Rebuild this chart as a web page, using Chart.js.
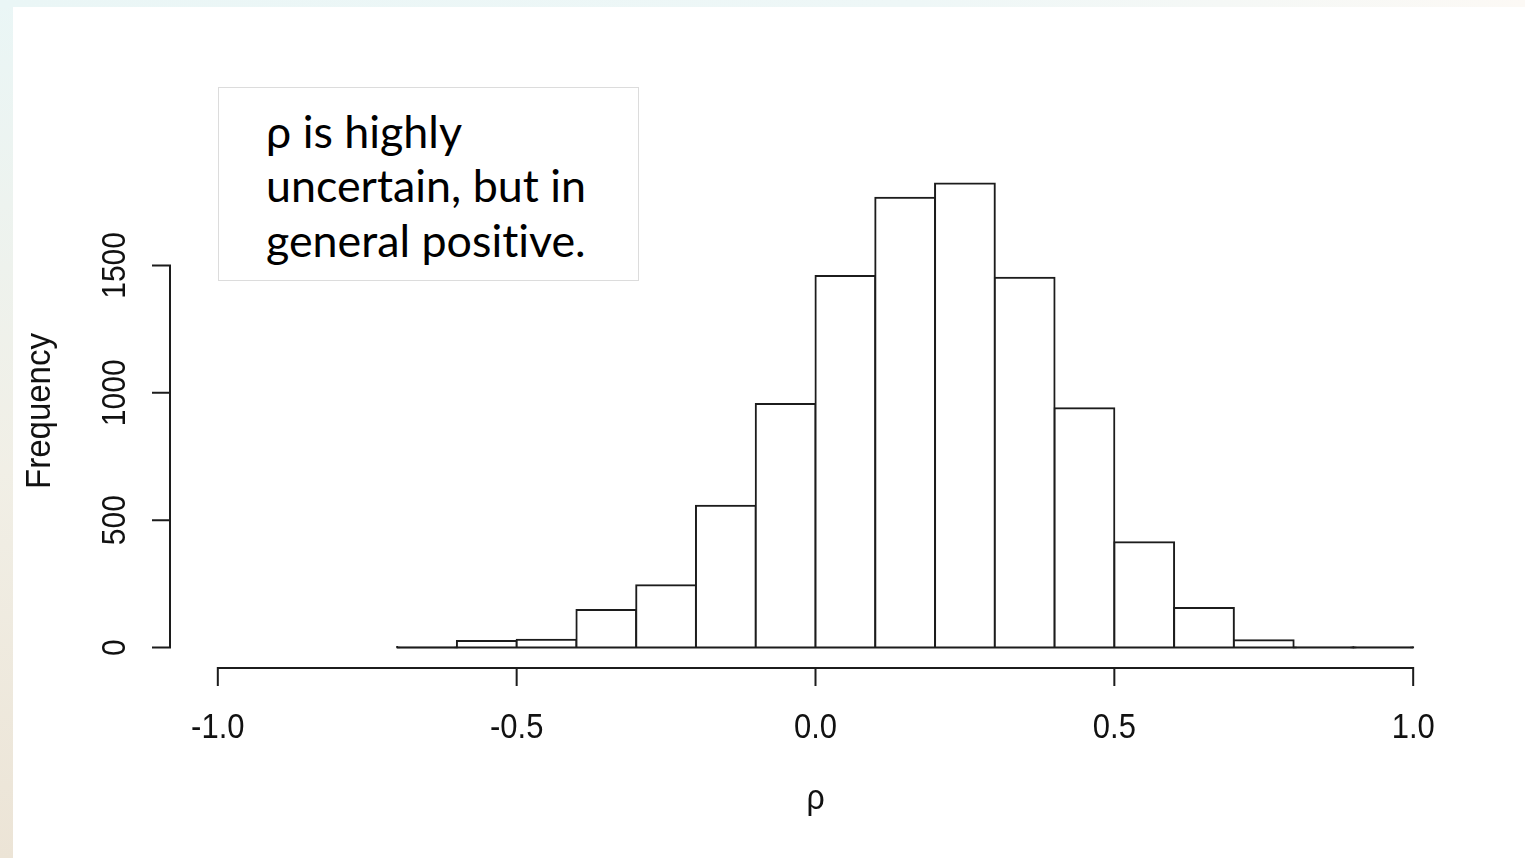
<!DOCTYPE html>
<html>
<head>
<meta charset="utf-8">
<script src="https://cdn.jsdelivr.net/npm/chart.js@4.4.1/dist/chart.umd.min.js"></script>
<style>
  html, body { margin: 0; padding: 0; overflow: hidden; }
  body {
    width: 1525px; height: 858px; position: relative;
    background: linear-gradient(to bottom, #eaf6f6 0%, #f1efe6 55%, #ece4d6 100%);
  }
  #top { position: absolute; left: 0; top: 0; width: 1525px; height: 7px;
    background: linear-gradient(to right, #eaf6f6, #eef7f7 60%, #fcf9f5); }
  #sheet { position: absolute; left: 13px; top: 7px; right: 0; bottom: 0; background: #fff; }
  #wrap { position: absolute; left: 0; top: 0; width: 1525px; height: 858px; }
  #note { position: absolute; left: 218px; top: 87px; width: 421px; height: 194px;
    box-sizing: border-box; border: 1.5px solid #dcdcdc; background: #fff; }
  #note div { position: absolute; left: 47px; white-space: nowrap; color: #000;
    font-family: Lato, "Noto Sans", sans-serif; font-variant-ligatures: none; line-height: 1; }
</style>
</head>
<body>
<div id="top"></div>
<div id="sheet"></div>
<div id="wrap"><canvas id="myChart"></canvas></div>
<div id="note"></div>
<script>
const ctx = document.getElementById('myChart')

// histogram of rho, bins of width 0.1
const binEdges = [-0.7, -0.6, -0.5, -0.4, -0.3, -0.2, -0.1, 0.0, 0.1, 0.2, 0.3, 0.4, 0.5, 0.6, 0.7, 0.8, 0.9, 1.0]
const counts = [2, 26, 31, 148, 245, 557, 956, 1458, 1766, 1821, 1452, 939, 414, 155, 29, 1, 1]

const xTicks = [-1.0, -0.5, 0.0, 0.5, 1.0]
const xTickLabels = ['-1.0', '-0.5', '0.0', '0.5', '1.0']
const yTicks = [0, 500, 1000, 1500]
const yTickLabels = ['0', '500', '1000', '1500']

const xTitle = 'ρ'
const yTitle = 'Frequency'
const note = ['ρ is highly', 'uncertain, but in', 'general positive.']

const ink = '#1c1c1c'

const bars = counts.map((c, i) => ({ x: (binEdges[i] + binEdges[i + 1]) / 2, y: c }))
const baseline = [
    { x: binEdges[0], y: 0 },
    { x: binEdges[binEdges.length - 1], y: 0 }
]

// the text box, font sized so the widest line is ~320px
const noteBox = document.getElementById('note')
const m = document.createElement('canvas').getContext('2d')
m.font = '100px Lato, "Noto Sans", sans-serif'
const noteSize = 100 * 320 / m.measureText(note[1]).width
note.forEach((line, i) => {
    const d = document.createElement('div')
    d.textContent = line
    d.style.fontSize = noteSize.toFixed(1) + 'px'
    // baseline sits ~0.887em below the top with line-height 1
    d.style.top = (149 + i * 54.5 - 87 - 1.5 - 0.887 * noteSize).toFixed(1) + 'px'
    noteBox.appendChild(d)
})

// R-like detached axes
const rAxes = {
    id: 'rAxes',
    afterDraw(chart) {
        const c = chart.ctx
        const { chartArea, scales: { x, y } } = chart
        c.save()
        c.strokeStyle = ink
        c.lineWidth = 2
        c.beginPath()
        const ax = chartArea.left
        c.moveTo(ax, y.getPixelForValue(yTicks[0]))
        c.lineTo(ax, y.getPixelForValue(yTicks[yTicks.length - 1]))
        yTicks.forEach(v => {
            const py = y.getPixelForValue(v)
            c.moveTo(ax + 1, py)
            c.lineTo(ax - 18, py)
        })
        const ay = chartArea.bottom
        c.moveTo(x.getPixelForValue(xTicks[0]), ay)
        c.lineTo(x.getPixelForValue(xTicks[xTicks.length - 1]), ay)
        xTicks.forEach(v => {
            const px = x.getPixelForValue(v)
            c.moveTo(px, ay - 1)
            c.lineTo(px, ay + 18)
        })
        c.stroke()

        c.fillStyle = '#111'
        c.textAlign = 'center'
        c.textBaseline = 'alphabetic'
        c.font = '31px "Liberation Sans", Arial, sans-serif'
        xTicks.forEach((v, i) => {
            c.save()
            c.translate(x.getPixelForValue(v), ay + 70)
            c.scale(1, 1.12)
            c.fillText(xTickLabels[i], 0, 0)
            c.restore()
        })
        c.font = '30px "Liberation Sans", Arial, sans-serif'
        yTicks.forEach((v, i) => {
            c.save()
            c.translate(ax - 45, y.getPixelForValue(v))
            c.rotate(-Math.PI / 2)
            c.scale(1, 1.12)
            c.fillText(yTickLabels[i], 0, 0)
            c.restore()
        })
        // axis titles
        c.save()
        c.font = '33px "Liberation Sans", Arial, sans-serif'
        c.translate(50, (chartArea.top + chartArea.bottom) / 2 + 8)
        c.rotate(-Math.PI / 2)
        c.scale(1, 1.06)
        c.fillText(yTitle, 0, 0)
        c.restore()
        c.save()
        c.font = '32px "Liberation Sans", Arial, sans-serif'
        c.translate(x.getPixelForValue(0), ay + 141)
        c.scale(1, 1.12)
        c.fillText(xTitle, 0, 0)
        c.restore()
        c.restore()
    }
}

const data = {
    datasets: [{
        type: 'line',
        data: baseline,
        borderColor: ink,
        borderWidth: 2,
        pointRadius: 0,
        order: 0
    }, {
        type: 'bar',
        data: bars,
        backgroundColor: '#fff',
        borderColor: ink,
        borderWidth: 2,
        inflateAmount: 1,
        barPercentage: 1,
        categoryPercentage: 1,
        order: 1
    }]
}

const config = {
    type: 'bar',
    data: data,
    options: {
        responsive: true,
        maintainAspectRatio: false,
        animation: false,
        layout: { padding: { left: 170, right: 64, top: 138, bottom: 190 } },
        plugins: { legend: { display: false }, tooltip: { enabled: false } },
        scales: {
            x: {
                type: 'linear', min: -1.08, max: 1.08, offset: false, display: false,
                // keep only the labelled ticks so bar width comes from the bin spacing
                afterBuildTicks: s => { s.ticks = xTicks.map(v => ({ value: v })) }
            },
            y: { min: -80, max: 2000, display: false }
        }
    },
    plugins: [rAxes]
}

const myChart = new Chart(ctx, config)
</script>
</body>
</html>
